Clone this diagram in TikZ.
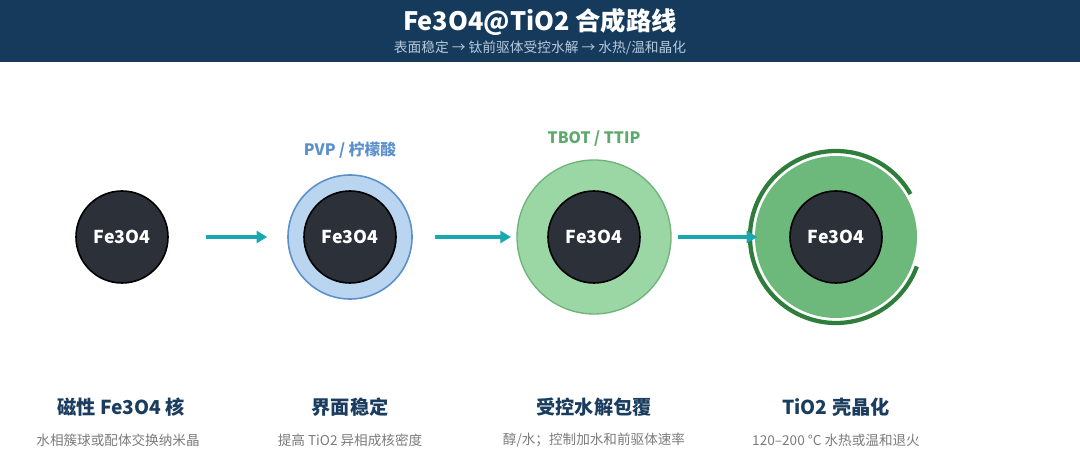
\documentclass[tikz,border=0pt]{standalone}
\usepackage{fontspec}
\setmainfont{Noto Sans CJK SC}
\usetikzlibrary{arrows.meta}
\definecolor{band}{HTML}{163A5C}
\definecolor{subtle}{HTML}{B7CADC}
\definecolor{coredark}{HTML}{2C3039}
\definecolor{pvpfill}{HTML}{B9D5F0}
\definecolor{pvpline}{HTML}{5C90CC}
\definecolor{tifill}{HTML}{9BD7A5}
\definecolor{tiline}{HTML}{6FB27A}
\definecolor{tilabel}{HTML}{5DA86B}
\definecolor{xfill}{HTML}{6DB97B}
\definecolor{xring}{HTML}{2F7D3B}
\definecolor{flowteal}{HTML}{1AA8B0}
\definecolor{navy}{HTML}{1A3C5E}
\definecolor{note}{HTML}{7B7B7B}

\begin{document}
\begin{tikzpicture}[x=0.75pt, y=-0.75pt,
  core/.style={circle, draw=black, line width=1.2pt, fill=coredark, text=white, inner sep=0pt, minimum size=69pt, font=\bfseries\fontsize{13.3}{15}\selectfont},
  shell/.style={circle, inner sep=0pt},
  flow/.style={draw=flowteal, line width=3pt, -{Triangle[length=8pt,width=9pt]}},
  agent/.style={font=\bfseries\fontsize{11.8}{14}\selectfont},
  steptitle/.style={text=navy, font=\bfseries\fontsize{14.4}{17}\selectfont},
  stepnote/.style={text=note, font=\fontsize{10.2}{12}\selectfont}]
\useasboundingbox (0,0) rectangle (1080,473);
\fill[band] (0,0) rectangle (1080,62);
\node[text=white, font=\bfseries\fontsize{19}{21}\selectfont] (title) at (540,22) {Fe3O4@TiO2 合成路线};
\node[text=subtle, font=\fontsize{10.3}{12}\selectfont] (subtitle) at (540,48) {表面稳定 → 钛前驱体受控水解 → 水热/温和晶化};

\node[shell, fill=pvpfill, draw=pvpline, line width=1.2pt, minimum size=93pt] (s2) at (350,237) {};
\node[shell, fill=tifill, draw=tiline, line width=1pt, minimum size=115.5pt] (s3) at (594,237) {};
\node[shell, fill=xfill, minimum size=121.5pt] (s4) at (836,237) {};
\draw[xring, line width=3.2pt] ([shift={(30:64.5pt)}]s4.center) arc[start angle=30, end angle=340, radius=64.5pt];

\node[core] (c1) at (122,237) {Fe3O4};
\node[core] (c2) at (350,237) {Fe3O4};
\node[core] (c3) at (594,237) {Fe3O4};
\node[core] (c4) at (836,237) {Fe3O4};

\draw[flow, shorten <=28pt, shorten >=15pt] (c1) -- (s2);
\draw[flow, shorten <=17pt, shorten >=4pt] (s2) -- (s3);
\draw[flow, shorten <=5pt, shorten >=-2pt] (s3) -- (s4);

\node[agent, text=pvpline] (a2) at (350,150) {PVP / 柠檬酸};
\node[agent, text=tilabel] (a3) at (594,139) {TBOT / TTIP};

\node[steptitle] (t1) at (121,407) {磁性 Fe3O4 核};
\node[steptitle] (t2) at (350,407) {界面稳定};
\node[steptitle] (t3) at (594,407) {受控水解包覆};
\node[steptitle] (t4) at (836,407) {TiO2 壳晶化};
\node[stepnote] (n1) at (118,440) {水相簇球或配体交换纳米晶};
\node[stepnote] (n2) at (350,440) {提高 TiO2 异相成核密度};
\node[stepnote] (n3) at (594,440) {醇/水；控制加水和前驱体速率};
\node[stepnote] (n4) at (836,440) {120–200 °C 水热或温和退火};
\end{tikzpicture}
\end{document}
